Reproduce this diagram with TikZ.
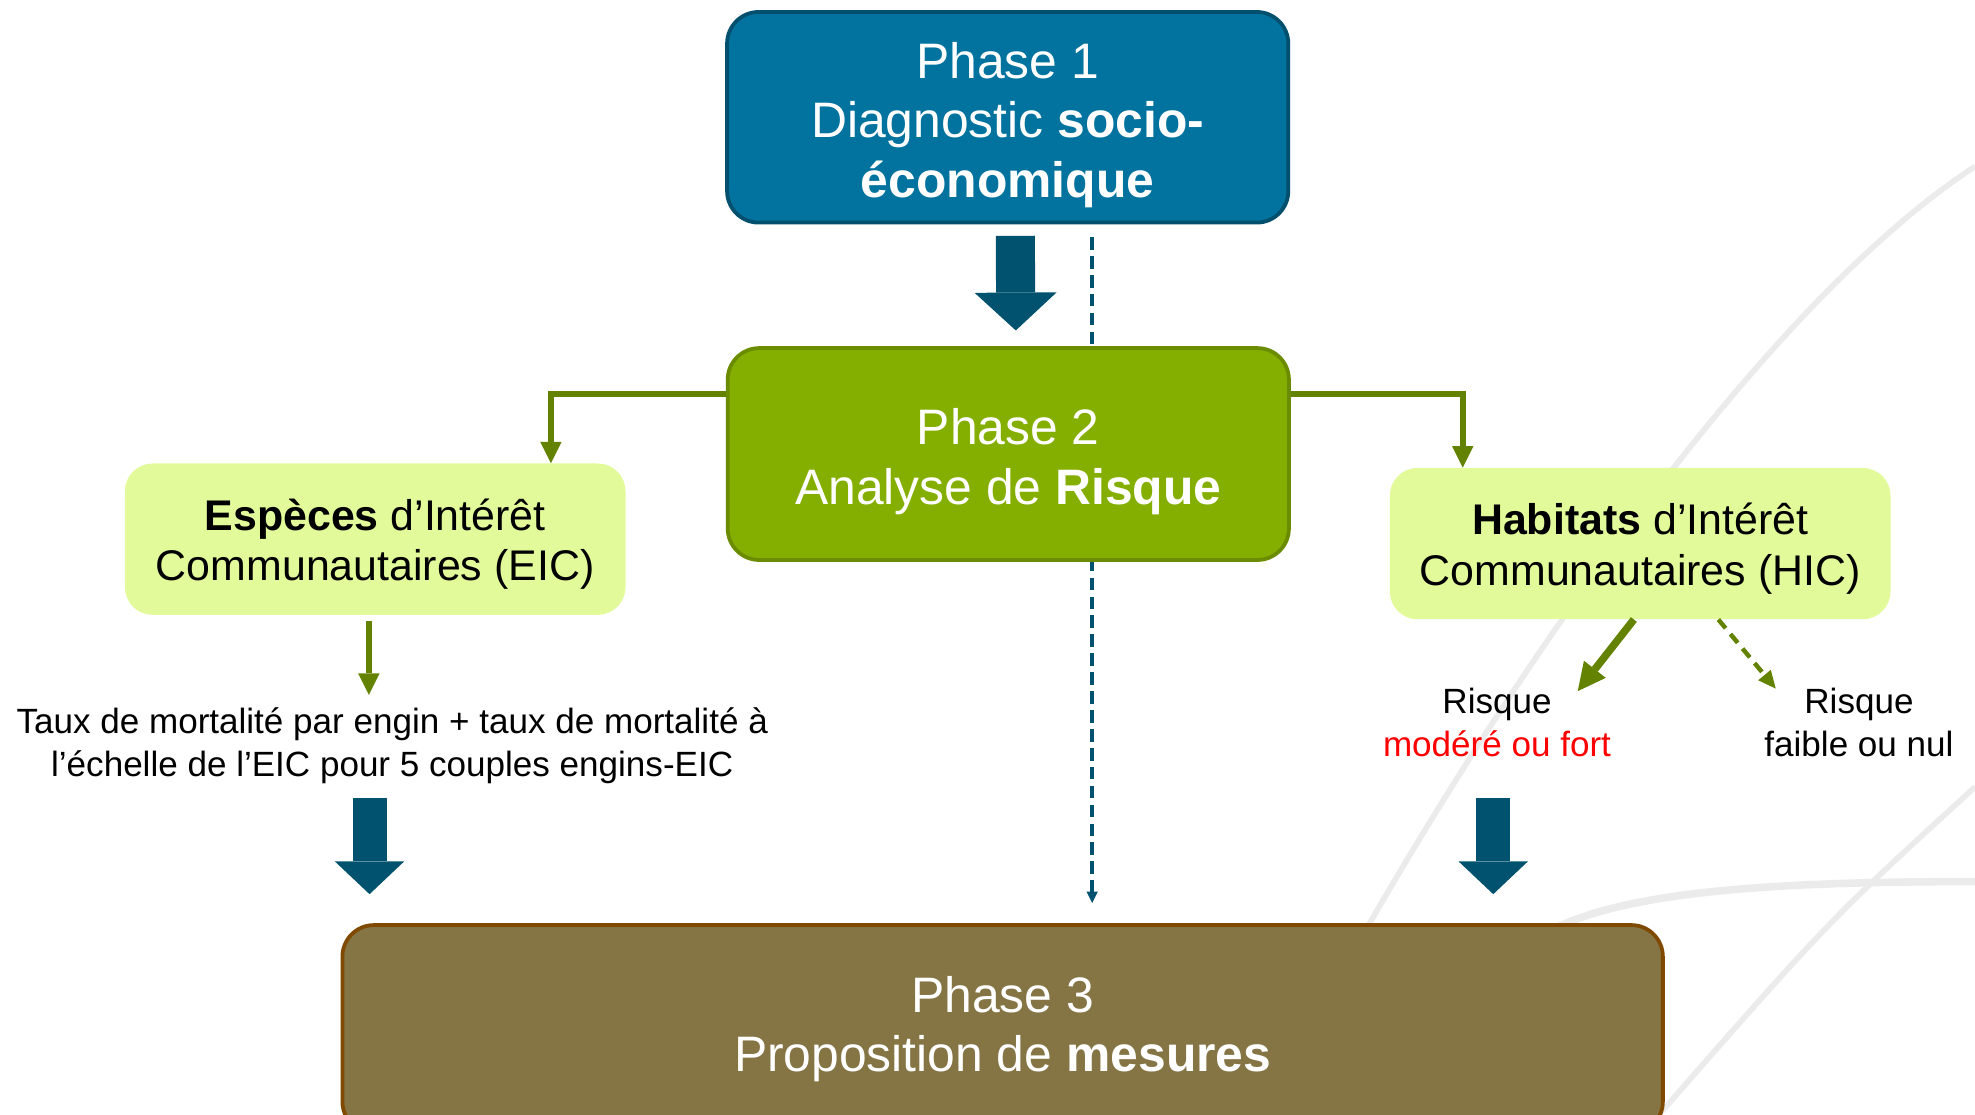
\documentclass[tikz,border=0pt]{standalone}
\usepackage{fontspec}
\setmainfont{Liberation Sans}
\usetikzlibrary{arrows.meta,calc,backgrounds}
\definecolor{phaseblue}{HTML}{02729E}
\definecolor{phaseblueline}{HTML}{03506E}
\definecolor{arrowblue}{HTML}{00526F}
\definecolor{phasegreen}{HTML}{84AE00}
\definecolor{phasegreenline}{HTML}{6B8C00}
\definecolor{linkgreen}{HTML}{628200}
\definecolor{icgreen}{HTML}{E2FA9A}
\definecolor{phasebrown}{HTML}{857545}
\definecolor{phasebrownline}{HTML}{7F4A00}
\definecolor{curvegrey}{HTML}{EBEBEB}
\newcommand{\topstrut}[1]{\rule{0pt}{#1}}
\begin{document}
\begin{tikzpicture}[x=1pt,y=-1pt,
    phase/.style={draw, line width=3pt, rounded corners=25pt, text=white,
      align=center, inner sep=0pt, font=\fontsize{39.5}{47.5}\selectfont},
    ic/.style={fill=icgreen, rounded corners=22pt, minimum width=397pt,
      minimum height=120pt, align=center, inner sep=0pt,
      font=\fontsize{34}{40}\selectfont},
    note/.style={align=center, inner sep=0pt, font=\fontsize{27.8}{34}\selectfont},
    bigarrow/.style={draw=arrowblue, line width=27pt,
      -{Triangle[length=26pt,width=55pt,line width=0pt]}},
    greenarrow/.style={draw=linkgreen, line width=5pt,
      -{Triangle[length=17pt,width=17pt,line width=0pt]}},
    dashlink/.style={draw=arrowblue, line width=3pt, dash pattern=on 10pt off 5pt,
      -{Triangle[length=9pt,width=9pt,line width=0pt]}},
    backcurve/.style={draw=curvegrey, line width=4.5pt}]
  \useasboundingbox (0,0) rectangle (1566,884);

  % phases
  \node[phase, fill=phaseblue, draw=phaseblueline, minimum width=445pt,
    minimum height=167pt] (p1) at (799,93)
    {\topstrut{41pt}Phase 1\\Diagnostic \textbf{socio-}\\\textbf{économique}};
  \node[phase, fill=phasegreen, draw=phasegreenline, minimum width=445pt,
    minimum height=168pt] (p2) at (799.5,360)
    {\topstrut{41pt}Phase 2\\Analyse de \textbf{Risque}};
  \node[phase, fill=phasebrown, draw=phasebrownline, minimum width=1047pt,
    minimum height=165pt] (p3) at (795,816)
    {Phase 3\\Proposition de \textbf{mesures}};

  % EIC / HIC
  \node[ic] (eic) at (297.5,427.5)
    {\topstrut{33pt}\textbf{Espèces} d’Intérêt\\Communautaires (EIC)};
  \node[ic] (hic) at (1300.5,431)
    {\topstrut{33pt}\textbf{Habitats} d’Intérêt\\Communautaires (HIC)};
  \node[note] (taux) at (311,591)
    {Taux de mortalité par engin + taux de mortalité à\\l’échelle de l’EIC pour 5 couples engins-EIC};
  \node[note] (rfort) at (1187,573) {Risque\\\textcolor{red}{modéré ou fort}};
  \node[note] (rnul) at (1474,573) {Risque\\faible ou nul};

  \coordinate (teic) at (292.5,551);
  \coordinate (tfort) at (1251,548);
  \coordinate (tnul) at (1408,546);
  \coordinate (beic) at (293,633);
  \coordinate (bhic) at (1184,633);
  \coordinate (dtop) at (866,188);

  \begin{pgfonlayer}{background}
    \draw[backcurve] (1566,132) .. controls (1400,240) and (1200,530) .. (1070,760);
    \draw[backcurve] (1566,624) .. controls (1450,730) .. (1310,890);
    \draw[backcurve, line width=6pt] (1566,699) .. controls (1380,699) and (1280,710) .. (1225,740);
    \draw[dashlink, shorten >=16pt] (dtop) -- (dtop |- p3.north);
  \end{pgfonlayer}

  \draw[bigarrow, line width=31pt, -{Triangle[length=30pt,width=65pt,line width=0pt]},
    shorten <=9pt, shorten >=12.5pt] ([xshift=6pt]p1.south) -- ([xshift=6pt]p2.north);
  \draw[greenarrow] ($(p2.north west)+(0,38)$) -| ($(eic.north west)+(338,0)$);
  \draw[greenarrow] ($(p2.north east)+(0,38)$) -| ($(hic.north west)+(58,0)$);
  \draw[greenarrow, shorten <=5pt] ([xshift=-5pt]eic.south) -- (teic);
  \draw[greenarrow, line width=6pt, -{Triangle[length=22pt,width=22pt,line width=0pt]}]
    ([xshift=-5pt]hic.south) -- (tfort);
  \draw[greenarrow, line width=3.5pt, dash pattern=on 9pt off 6pt,
    -{Triangle[length=14pt,width=13pt,line width=0pt]}]
    ([xshift=62pt]hic.south) -- (tnul);
  \draw[bigarrow, shorten >=23pt] (beic) -- (beic |- p3.north);
  \draw[bigarrow, shorten >=23pt] (bhic) -- (bhic |- p3.north);
\end{tikzpicture}
\end{document}
